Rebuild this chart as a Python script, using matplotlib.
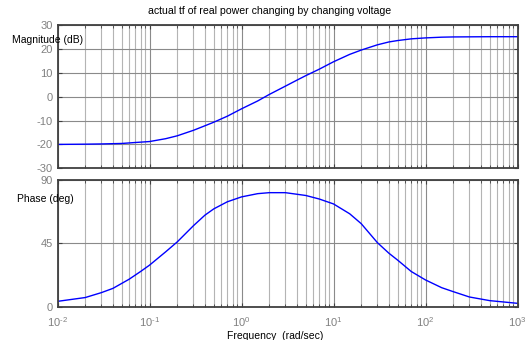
import matplotlib
matplotlib.use('Agg')
import matplotlib.pyplot as plt
import numpy as np
from matplotlib.ticker import LogLocator, NullFormatter, FixedLocator, FuncFormatter

plt.rcParams['font.family'] = ['Liberation Sans', 'DejaVu Sans']
plt.rcParams['mathtext.fontset'] = 'custom'
plt.rcParams['mathtext.rm'] = 'Liberation Sans'
plt.rcParams['mathtext.default'] = 'regular'
plt.rcParams['axes.unicode_minus'] = False

# values
mag_freq = [0.01, 0.02, 0.03, 0.05, 0.07, 0.1, 0.15, 0.2, 0.3, 0.4, 0.5, 0.7, 1, 1.5, 2,
            3, 4, 5, 7, 10, 15, 20, 30, 40, 50, 70, 100, 150, 200, 500, 1000]
mag_db = [-20.0, -19.9, -19.8, -19.6, -19.2, -18.8, -17.6, -16.4, -14.1, -12.2, -10.7,
          -8.2, -5.1, -1.8, 0.9, 4.4, 6.9, 8.8, 11.5, 14.6, 17.7, 19.5, 21.7, 22.9,
          23.5, 24.2, 24.6, 24.9, 25.0, 25.1, 25.1]

ph_freq = [0.01, 0.02, 0.03, 0.04, 0.06, 0.08, 0.1, 0.15, 0.2, 0.3, 0.4, 0.5, 0.7, 1,
           1.5, 2, 3, 5, 7, 10, 15, 20, 30, 40, 50, 70, 100, 150, 200, 300, 500, 1000]
ph_deg = [3.8, 6.5, 10, 13, 19.5, 25, 29.5, 39, 46, 57.5, 65, 69.5, 74.5, 78, 80.3, 81,
          81, 79, 76.5, 73, 66, 59, 45.5, 38, 33, 25, 19, 13.5, 10.7, 6.9, 4.3, 2.4]

title = "actual tf of real power changing by changing voltage"
mag_ticks = [-30, -20, -10, 0, 10, 20, 30]
ph_ticks = [0, 45, 90]


def decade_label(x, pos):
    e = int(round(np.log10(x)))
    if e < 0:
        return r'$10^{\text{-}%d}$' % (-e)
    return r'$10^{%d}$' % e


W, H = 528, 340
fig = plt.figure(figsize=(W / 100, H / 100), dpi=100)
ax1 = fig.add_axes([57.5 / W, 1 - 168.3 / H, 460 / W, 143.3 / H])
ax2 = fig.add_axes([57.5 / W, 1 - 306.7 / H, 460 / W, 126.7 / H])

tick_col = '#808080'
frame_col = '#404040'

for ax in (ax1, ax2):
    ax.set_xscale('log')
    ax.set_xlim(0.01, 1000)
    ax.xaxis.set_major_locator(LogLocator(base=10, numticks=10))
    ax.xaxis.set_major_formatter(FuncFormatter(decade_label))
    ax.xaxis.set_minor_locator(LogLocator(base=10, subs=np.arange(2, 10), numticks=20))
    ax.xaxis.set_minor_formatter(NullFormatter())
    ax.grid(True, which='major', color='#8a8a8a', lw=0.8)
    ax.grid(True, which='minor', axis='x', color='#b4b4b4', lw=0.8)
    ax.tick_params(which='both', direction='in', top=True, right=True,
                   colors=frame_col, labelcolor=tick_col, labelsize=8, length=3)
    ax.tick_params(which='minor', length=2)
    ax.tick_params(axis='x', pad=6)
    for s in ax.spines.values():
        s.set_color(frame_col)
        s.set_linewidth(1.3)

ax1.plot(mag_freq, mag_db, color='#0000ff', lw=1)
ax1.set_ylim(-30, 30)
ax1.yaxis.set_major_locator(FixedLocator(mag_ticks))
ax1.tick_params(labelbottom=False)

ax2.plot(ph_freq, ph_deg, color='#0000ff', lw=1)
ax2.set_ylim(0, 90)
ax2.yaxis.set_major_locator(FixedLocator(ph_ticks))

fig.text(270 / W, 1 - 11 / H, title, ha='center', va='center', fontsize=7.6)
fig.text(12 / W, 1 - 40 / H, 'Magnitude (dB)', ha='left', va='center', fontsize=7.5)
fig.text(17 / W, 1 - 199 / H, 'Phase (deg)', ha='left', va='center', fontsize=7.5)
fig.text(275 / W, 1 - 336 / H, 'Frequency  (rad/sec)', ha='center', va='center', fontsize=7.5)

fig.savefig('out.png', dpi=100)
